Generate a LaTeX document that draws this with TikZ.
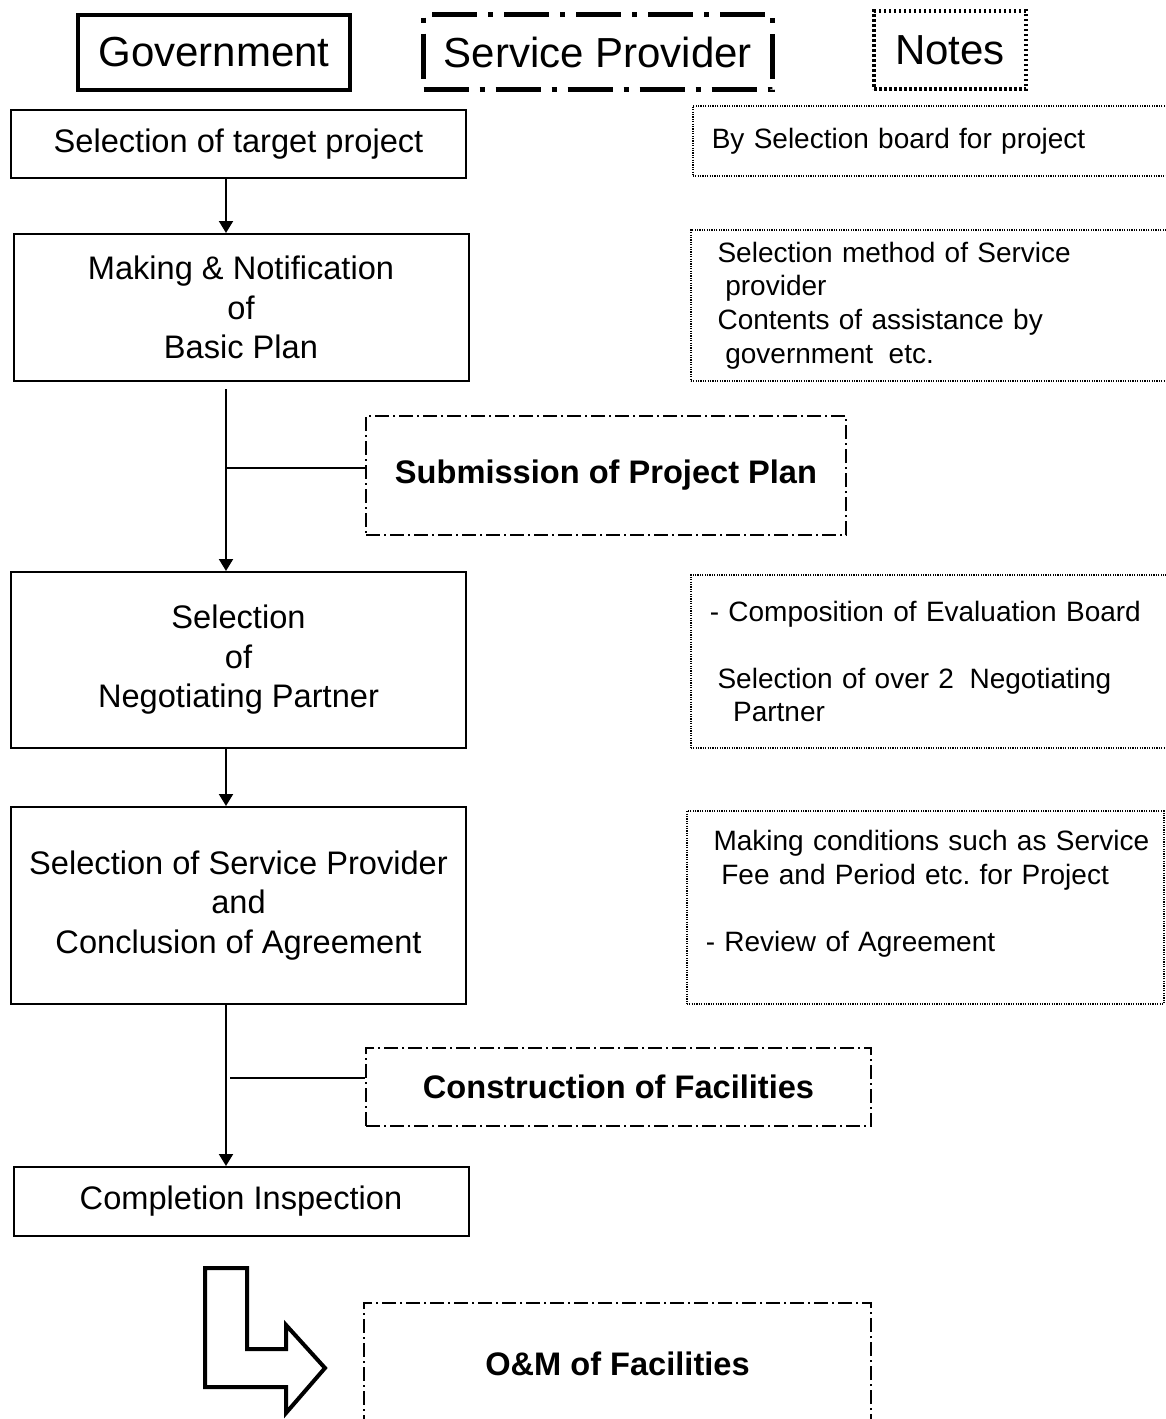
\documentclass[tikz,border=0pt]{standalone}
\usepackage{fontspec}
\setmainfont{Liberation Sans}
\usetikzlibrary{positioning,arrows.meta,calc}
\frenchspacing

\newcommand{\lsp}{\hspace*{0.278em}}

\begin{document}
\begin{tikzpicture}[x=1pt,y=-1pt,
		govbox/.style={draw,line width=2pt,minimum width=455,align=center,
			font=\fontsize{32.6}{39.5}\selectfont},
		spbox/.style={draw,line width=1.5pt,dash pattern=on 14pt off 4pt on 2pt off 4pt,
			font=\fontsize{32.6}{39.5}\selectfont\bfseries},
		note/.style={draw,line width=1.5pt,dash pattern=on 1.2pt off 1.2pt,anchor=west,
			inner xsep=19,align=left,font=\fontsize{28}{33.6}\selectfont},
		keybox/.style={minimum height=75,font=\fontsize{42}{50}\selectfont},
		flow/.style={line width=2pt,-{Triangle[width=14pt,length=12pt]}},
		branch/.style={line width=1.5pt}
	]
	\useasboundingbox (0,0) rectangle (1166,1419);

	% key
	\node[keybox,draw,line width=4pt,minimum width=272] (gov) at (214,52) {Government};
	\node[keybox,draw,line width=4.5pt,minimum width=349,
		dash pattern=on 45pt off 11pt on 5pt off 11pt] (prov) at (598,52) {Service Provider};
	\node[keybox,draw,line width=4pt,minimum width=152,minimum height=78,
		dash pattern=on 2.5pt off 2.5pt] (notes) at (950,50) {Notes};

	% government steps
	\node[govbox,minimum height=68] (target) at (238.5,144) {Selection of target project};
	\node[govbox,minimum height=147] (plan) at (241,307.5) {Making \& Notification\\of\\Basic Plan};
	\node[govbox,minimum height=176] (partner) at (238.5,660) {Selection\\of\\Negotiating Partner};
	\node[govbox,minimum height=197] (agree) at (238.5,905.5) {Selection of Service Provider\\and\\Conclusion of Agreement};
	\node[govbox,minimum height=69] (inspect) at (241,1201.5) {Completion Inspection};

	% service provider steps
	\node[spbox,minimum width=480,minimum height=119] (submit) at (606,475.5) {Submission of Project Plan};
	\node[spbox,minimum width=505,minimum height=78] (build) at (618.5,1087) {Construction of Facilities};
	\node[spbox,minimum width=507,minimum height=122] (om) at (617.5,1364) {O\&M of Facilities};

	% notes
	\node[note,minimum height=70,text width=445] (nt1) at (692,141) {By Selection board for project};
	\node[note,minimum height=151,text width=447] (nt2) at (690,305.5) {\lsp Selection method of Service\\
		\lsp\lsp provider\\
		\lsp Contents of assistance by\\
		\lsp\lsp government\lsp\lsp etc.};
	\node[note,minimum height=173,text width=447] (nt3) at (690,661.5) {- Composition of Evaluation Board\\[33.6pt]
		\lsp Selection of over 2\lsp\lsp Negotiating\\
		\lsp\lsp\lsp Partner};
	\node[note,minimum height=193,text width=439] (nt4) at (686,907.5) {\mbox{\lsp Making conditions such as Service}\\
		\lsp\lsp Fee and Period etc. for Project\\[33.6pt]
		- Review of Agreement\\ \mbox{}};

	% main line
	\coordinate (trunk) at (226,0);
	\draw[flow] (target.south -| trunk) -- (plan.north -| trunk);
	\draw[flow,shorten <=7pt] (plan.south -| trunk) -- (partner.north -| trunk);
	\draw[flow] (partner.south -| trunk) -- (agree.north -| trunk);
	\draw[flow] (agree.south -| trunk) -- (inspect.north -| trunk);

	\coordinate (tap1) at (226,468);
	\coordinate (tap2) at (230,1078);
	\draw[branch] (tap1) -- (tap1 -| submit.west);
	\draw[branch] (tap2) -- (tap2 -| build.west);

	% hand-over arrow
	\draw[line width=4pt] (205,1268) -- (247,1268) -- (247,1349) -- (286,1349) -- (286,1325)
		-- (325,1368) -- (286,1413) -- (286,1387) -- (205,1387) -- cycle;
\end{tikzpicture}
\end{document}
